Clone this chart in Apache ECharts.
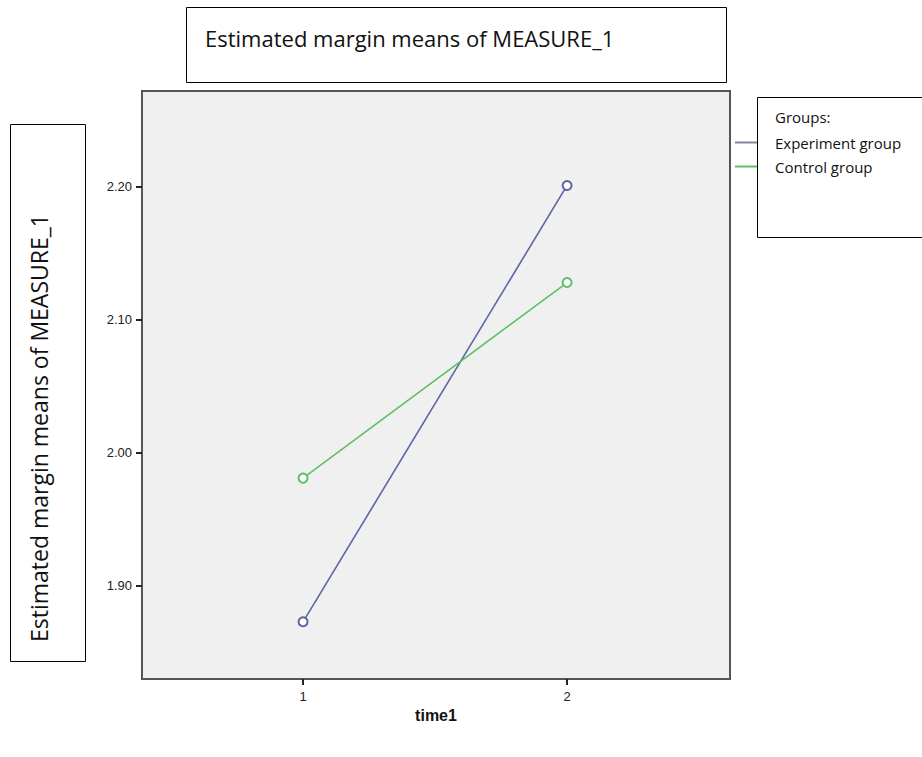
<!DOCTYPE html>
<html>
<head>
<meta charset="utf-8">
<script src="https://cdn.jsdelivr.net/npm/echarts@6/dist/echarts.min.js"></script>
<style>html,body{margin:0;padding:0;background:#fff}#c{width:922px;height:757px}</style>
</head>
<body>
<div id="c"></div>
<script>
const times = [1, 2];
const seriesNames = ['Experiment group', 'Control group'];
const experiment = [1.873, 2.201];
const control = [1.981, 2.128];
const yTicks = [1.90, 2.00, 2.10, 2.20];
const xTicks = [1, 2];
const titleText = 'Estimated margin means of MEASURE_1';
const yTitle = 'Estimated margin means of MEASURE_1';
const xTitle = 'time1';
const legendTitle = 'Groups:';

const chart = echarts.init(document.getElementById('c'), null, {renderer: 'svg'});
const boxFont = '"Open Sans", Lato, sans-serif';
const axisFont = '"Liberation Sans", Arial, sans-serif';
chart.setOption({
  animation: false,
  backgroundColor: '#fff',
  grid: {left: 142, top: 91, width: 588, height: 588, show: true,
         backgroundColor: '#f0f0f0', borderColor: '#555', borderWidth: 2},
  xAxis: {
    type: 'value', min: 0.39, max: 2.617,
    axisLine: {show: false}, splitLine: {show: false},
    axisTick: {show: true, customValues: xTicks, length: 6, lineStyle: {color: '#222', width: 2}},
    axisLabel: {customValues: xTicks, margin: 11, color: '#222', fontSize: 13, fontFamily: axisFont},
    name: xTitle, nameLocation: 'middle', nameGap: 26,
    nameTextStyle: {fontSize: 16, fontWeight: 'bold', color: '#111', fontFamily: axisFont}
  },
  yAxis: {
    type: 'value', min: 1.83, max: 2.272,
    axisLine: {show: false}, splitLine: {show: false},
    axisTick: {show: true, customValues: yTicks, length: 6, lineStyle: {color: '#222', width: 2}},
    axisLabel: {customValues: yTicks, margin: 10, color: '#222', fontSize: 13, fontFamily: axisFont,
                formatter: v => v.toFixed(2)}
  },
  legend: {
    orient: 'vertical', left: 735, top: 135, padding: 0, itemWidth: 22, itemHeight: 12, itemGap: 9,
    icon: 'path://M0,5 L22,5 L22,7 L0,7 Z',
    textStyle: {fontSize: 15, color: '#111', fontFamily: boxFont, padding: [0, 0, 0, 13]},
    data: [{name: seriesNames[0], itemStyle: {color: '#80879a'}}, {name: seriesNames[1]}]
  },
  series: [
    {name: seriesNames[0], type: 'line', data: times.map((t, i) => [t, experiment[i]]),
     symbol: 'emptyCircle', symbolSize: 9, color: '#5a66a8',
     lineStyle: {width: 1.6, color: '#5a66a8'}, itemStyle: {color: '#5a66a8', borderWidth: 1.5}},
    {name: seriesNames[1], type: 'line', data: times.map((t, i) => [t, control[i]]),
     symbol: 'emptyCircle', symbolSize: 9, color: '#5cc067',
     lineStyle: {width: 1.6, color: '#5cc067'}, itemStyle: {color: '#5cc067', borderWidth: 1.5}}
  ],
  graphic: [
    {type: 'rect', shape: {x: 186.5, y: 7.5, width: 540, height: 75}, style: {fill: '#fff', stroke: '#000', lineWidth: 1}, z: 10},
    {type: 'text', x: 205, y: 38, style: {text: titleText, font: '22px ' + boxFont, fill: '#111', textVerticalAlign: 'middle'}, z: 11},
    {type: 'rect', shape: {x: 10.5, y: 124.5, width: 75, height: 537}, style: {fill: '#fff', stroke: '#000', lineWidth: 1}, z: 10},
    {type: 'text', x: 39, y: 428, rotation: Math.PI / 2,
     style: {text: yTitle, font: '23px ' + boxFont, fill: '#111', textAlign: 'center', textVerticalAlign: 'middle'}, z: 11},
    {type: 'rect', shape: {x: 757.5, y: 97.5, width: 170, height: 140}, style: {fill: 'none', stroke: '#000', lineWidth: 1}, z: 10},
    {type: 'text', x: 775, y: 117, style: {text: legendTitle, font: '15px ' + boxFont, fill: '#111', textVerticalAlign: 'middle'}, z: 11}
  ]
});
</script>
</body>
</html>
